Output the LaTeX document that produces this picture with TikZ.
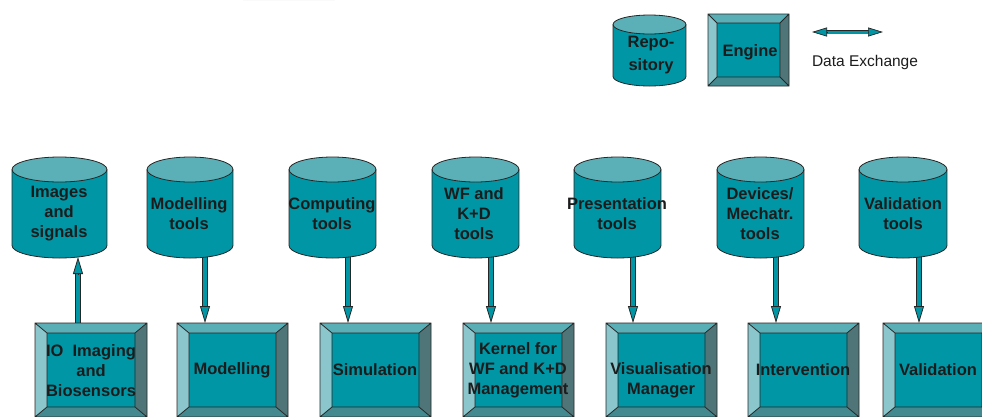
\documentclass[tikz,border=0pt]{standalone}
\usepackage{fontspec}
\setmainfont{Liberation Sans}
\usetikzlibrary{arrows.meta,calc}

\definecolor{tealbody}{HTML}{0096A5}
\definecolor{tealcap}{HTML}{5BB0B8}
\definecolor{bevtopc}{HTML}{5AAEB6}
\definecolor{bevleftc}{HTML}{8AC6CC}
\definecolor{bevrightc}{HTML}{4F7579}
\definecolor{bevbotc}{HTML}{438A90}
\definecolor{edgec}{HTML}{262626}
\definecolor{inkc}{HTML}{1C1C1C}
\definecolor{markc}{HTML}{DCDCDE}

\pgfdeclarelayer{back}
\pgfsetlayers{back,main}

\tikzset{
  outline/.style={draw=edgec, line width=0.8pt},
  lbl/.style={font=\bfseries\fontsize{16.5}{20}\selectfont, text=inkc, align=center, inner sep=0},
  legendlbl/.style={font=\bfseries\fontsize{16.5}{23}\selectfont, text=inkc, align=center, inner sep=0},
  plainlbl/.style={font=\fontsize{15.5}{19}\selectfont, text=inkc, inner sep=0},
  anchorbox/.style={inner sep=0, outer sep=0, draw=none},
}

% cylinder: name, centre x, top y, bottom y, half width, cap half height
\newcommand\drum[6]{%
  \fill[tealbody] (#2-#5,-#3-#6) rectangle (#2+#5,-#4+#6);
  \fill[tealbody] (#2,-#4+#6) ellipse[x radius=#5pt, y radius=#6pt];
  \fill[tealcap] (#2,-#3-#6) ellipse[x radius=#5pt, y radius=#6pt];
  \draw[outline] (#2,-#3-#6) ellipse[x radius=#5pt, y radius=#6pt];
  \draw[outline] (#2-#5,-#3-#6) -- (#2-#5,-#4+#6)
    arc[start angle=180, end angle=360, x radius=#5pt, y radius=#6pt] -- (#2+#5,-#3-#6);
  \node[anchorbox, minimum width={2*#5pt}, minimum height={(#4-#3)*1pt}] (#1) at (#2,{-(#3+#4)/2}) {};
}

% bevelled box: name, left, top, right, bottom, bevel x, bevel y
\newcommand\bevelbox[7]{%
  \fill[bevtopc] (#2,-#3) -- (#4,-#3) -- (#4-#6,-#3-#7) -- (#2+#6,-#3-#7) -- cycle;
  \fill[bevleftc] (#2,-#3) -- (#2+#6,-#3-#7) -- (#2+#6,-#5+#7) -- (#2,-#5) -- cycle;
  \fill[bevrightc] (#4,-#3) -- (#4,-#5) -- (#4-#6,-#5+#7) -- (#4-#6,-#3-#7) -- cycle;
  \fill[bevbotc] (#2,-#5) -- (#4,-#5) -- (#4-#6,-#5+#7) -- (#2+#6,-#5+#7) -- cycle;
  \fill[tealbody] (#2+#6,-#3-#7) rectangle (#4-#6,-#5+#7);
  \draw[outline] (#2,-#3) rectangle (#4,-#5) (#2+#6,-#3-#7) rectangle (#4-#6,-#5+#7)
    (#2,-#3) -- (#2+#6,-#3-#7) (#4,-#3) -- (#4-#6,-#3-#7)
    (#2,-#5) -- (#2+#6,-#5+#7) (#4,-#5) -- (#4-#6,-#5+#7);
  \node[anchorbox, minimum width={(#4-#2)*1pt}, minimum height={(#5-#3)*1pt}] (#1) at ({(#2+#4)/2},{-(#3+#5)/2}) {};
}

% hollow flow arrow between two named points
\newcommand\flow[2]{%
  \draw[line width=6pt, edgec, shorten >=16pt] (#1) -- (#2);
  \draw[line width=4.4pt, tealbody, shorten >=15pt] (#1) -- (#2);
  \draw[line width=0.8pt, edgec, -{Triangle[length=17pt, width=10pt, fill=tealbody]}] ($(#2)!17pt!(#1)$) -- (#2);
}

\begin{document}
\begin{tikzpicture}[x=1pt, y=1pt]
\useasboundingbox (0,0) rectangle (982,-416);
\clip (0,0) rectangle (982,-416);

% repositories
\drum{imgd}{59.5}{157}{258}{47.5}{12.5}
\drum{modd}{190}{157}{258}{43}{12.5}
\drum{comd}{332.5}{157}{258}{43.5}{12.5}
\drum{wfd}{475.5}{157}{258}{43.5}{12.5}
\drum{presd}{617.5}{157}{258}{43.5}{12.5}
\drum{devd}{760.5}{157}{258}{43.5}{12.5}
\drum{vald}{903}{157}{258}{44}{12.5}

% engines
\bevelbox{iob}{35}{323}{147}{417}{12}{10}
\bevelbox{modb}{177}{323}{288}{417}{12}{10}
\bevelbox{simb}{320}{323}{431}{417}{12}{10}
\bevelbox{kerb}{463}{323}{574}{417}{12}{10}
\bevelbox{visb}{606}{323}{717}{417}{12}{10}
\bevelbox{intb}{748}{323}{859}{417}{12}{10}
\bevelbox{valb}{883}{323}{994}{417}{12}{10}

% legend
\drum{repd}{649.5}{15}{86}{36.5}{9.5}
\bevelbox{engb}{708}{14}{789}{86}{9}{9}
\node[legendlbl] (reptxt) at (651,-55) {Repo-\\sitory};
\node[legendlbl] (engtxt) at (750,-52) {Engine};
\node[plainlbl] (dxtxt) at (865,-62) {Data Exchange};
\coordinate (dxl) at (812,-32);
\coordinate (dxr) at (883,-32);
\draw[line width=4.6pt, edgec, shorten >=14pt, shorten <=14pt] (dxl) -- (dxr);
\draw[line width=3pt, tealbody, shorten >=13pt, shorten <=13pt] (dxl) -- (dxr);
\draw[line width=0.7pt, edgec, -{Triangle[length=15pt, width=9pt, fill=tealbody]}] ($(dxr)!15pt!(dxl)$) -- (dxr);
\draw[line width=0.7pt, edgec, -{Triangle[length=15pt, width=9pt, fill=tealbody]}] ($(dxl)!15pt!(dxr)$) -- (dxl);

\begin{pgfonlayer}{back}
  % page and faint proof stamp fragment at the top edge
  \fill[white] (0,0) rectangle (982,-416);
  \fill[markc] (243,0) -- (335,0) .. controls (333,5) and (331,9) .. (326,11)
    -- (264,11) .. controls (256,9) and (250,5) .. cycle;
  \fill[markc] (228,13) .. controls (229,8) and (236,6) .. (245,7) -- (246,13) -- cycle;
  % data exchange connectors
  \coordinate (a0) at ([xshift=-13pt]iob.north);
  \coordinate (a0e) at ([yshift=1pt]a0 |- imgd.south);
  \flow{a0}{a0e}
  \coordinate (a1) at ([xshift=15pt, yshift=4pt]modd.south);
  \coordinate (a1e) at (a1 |- modb.north);
  \flow{a1}{a1e}
  \coordinate (a2) at ([xshift=15.5pt, yshift=4pt]comd.south);
  \coordinate (a2e) at (a2 |- simb.north);
  \flow{a2}{a2e}
  \coordinate (a3) at ([xshift=15.5pt, yshift=4pt]wfd.south);
  \coordinate (a3e) at (a3 |- kerb.north);
  \flow{a3}{a3e}
  \coordinate (a4) at ([xshift=15.5pt, yshift=4pt]presd.south);
  \coordinate (a4e) at (a4 |- visb.north);
  \flow{a4}{a4e}
  \coordinate (a5) at ([xshift=15.5pt, yshift=4pt]devd.south);
  \coordinate (a5e) at (a5 |- intb.north);
  \flow{a5}{a5e}
  \coordinate (a6) at ([xshift=16pt, yshift=4pt]vald.south);
  \coordinate (a6e) at (a6 |- valb.north);
  \flow{a6}{a6e}
\end{pgfonlayer}

% repository labels
\node[lbl] (imgt) at (59,-214) {Images\\and\\signals};
\node[lbl] (modt) at (189,-214) {Modelling\\tools};
\node[lbl] (comt) at (332,-214) {Computing\\tools};
\node[lbl] (wft) at (474,-214) {WF and\\K+D\\tools};
\node[lbl] (prest) at (617,-214) {Presentation\\tools};
\node[lbl] (devt) at (760,-214) {Devices/\\Mechatr.\\tools};
\node[lbl] (valt) at (903,-214) {Validation\\tools};

% engine labels
\node[lbl] (iot) at (91,-371) {IO\ \ Imaging\\and\\Biosensors};
\node[lbl] (modbt) at (232,-370) {Modelling};
\node[lbl] (simt) at (375,-370) {Simulation};
\node[lbl] (kert) at (518,-370) {Kernel for\\WF and K+D\\Management};
\node[lbl] (vist) at (661,-380) {Visualisation\\Manager};
\node[lbl] (intt) at (803,-370) {Intervention};
\node[lbl] (valbt) at (938,-370) {Validation};
\end{tikzpicture}
\end{document}
